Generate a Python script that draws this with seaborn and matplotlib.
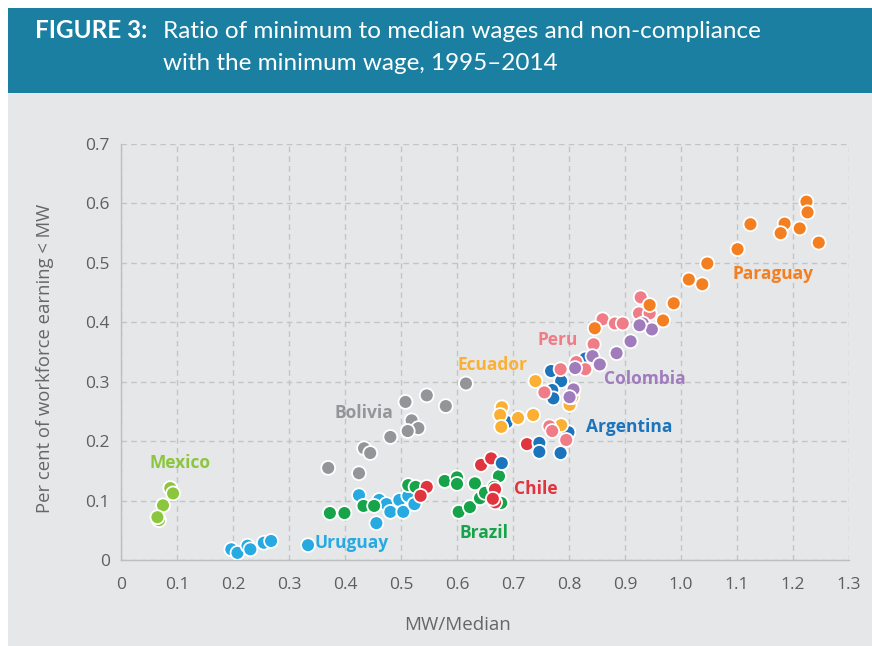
import matplotlib
matplotlib.use("Agg")
import matplotlib.pyplot as plt
import seaborn as sns
import pandas as pd
from matplotlib.patches import Rectangle

# ---------------- data ----------------
countries = ["Mexico", "Uruguay", "Bolivia", "Brazil", "Chile", "Argentina",
             "Ecuador", "Peru", "Colombia", "Paraguay"]

mexico_x = [0.088, 0.093, 0.075, 0.068, 0.065]
mexico_y = [0.121, 0.112, 0.092, 0.067, 0.072]

uruguay_x = [0.197, 0.208, 0.226, 0.231, 0.255, 0.268, 0.334, 0.425, 0.461, 0.474,
             0.481, 0.497, 0.504, 0.513, 0.524, 0.456]
uruguay_y = [0.018, 0.012, 0.024, 0.018, 0.029, 0.032, 0.025, 0.109, 0.101, 0.094,
             0.081, 0.101, 0.081, 0.108, 0.094, 0.062]

bolivia_x = [0.616, 0.546, 0.508, 0.580, 0.519, 0.531, 0.512, 0.481, 0.434, 0.445, 0.370, 0.425]
bolivia_y = [0.297, 0.277, 0.266, 0.259, 0.235, 0.222, 0.217, 0.207, 0.188, 0.180, 0.155, 0.146]

brazil_x = [0.373, 0.399, 0.433, 0.452, 0.513, 0.526, 0.578, 0.600, 0.600, 0.632,
            0.603, 0.623, 0.641, 0.650, 0.675, 0.666, 0.679]
brazil_y = [0.079, 0.079, 0.091, 0.091, 0.126, 0.123, 0.133, 0.139, 0.128, 0.129,
            0.081, 0.089, 0.104, 0.113, 0.141, 0.123, 0.096]

chile_x = [0.546, 0.535, 0.643, 0.661, 0.668, 0.668, 0.664, 0.725]
chile_y = [0.123, 0.108, 0.160, 0.171, 0.119, 0.097, 0.103, 0.195]

argentina_x = [0.680, 0.747, 0.747, 0.785, 0.799, 0.689, 0.768, 0.786, 0.770, 0.772, 0.829]
argentina_y = [0.163, 0.197, 0.182, 0.180, 0.215, 0.232, 0.318, 0.301, 0.286, 0.272, 0.339]

ecuador_x = [0.680, 0.677, 0.679, 0.709, 0.736, 0.740, 0.786, 0.801, 0.806]
ecuador_y = [0.257, 0.244, 0.224, 0.239, 0.244, 0.301, 0.227, 0.261, 0.274]

peru_x = [0.928, 0.925, 0.944, 0.860, 0.882, 0.896, 0.844, 0.813, 0.829, 0.785,
          0.756, 0.765, 0.770, 0.795]
peru_y = [0.442, 0.415, 0.415, 0.405, 0.398, 0.398, 0.363, 0.333, 0.321, 0.321,
          0.282, 0.225, 0.217, 0.202]

colombia_x = [0.932, 0.948, 0.926, 0.910, 0.885, 0.842, 0.855, 0.811, 0.808, 0.801]
colombia_y = [0.398, 0.388, 0.395, 0.368, 0.348, 0.343, 0.329, 0.323, 0.287, 0.274]

paraguay_x = [1.224, 1.226, 1.124, 1.185, 1.178, 1.212, 1.246, 1.101, 1.047, 1.014,
              1.038, 0.987, 0.968, 0.944, 0.846]
paraguay_y = [0.603, 0.585, 0.565, 0.566, 0.550, 0.558, 0.534, 0.523, 0.499, 0.472,
              0.464, 0.432, 0.403, 0.429, 0.390]

x_ticks = [0, 0.1, 0.2, 0.3, 0.4, 0.5, 0.6, 0.7, 0.8, 0.9, 1.0, 1.1, 1.2, 1.3]
x_tick_labels = ["0", "0.1", "0.2", "0.3", "0.4", "0.5", "0.6", "0.7", "0.8", "0.9",
                 "1.0", "1.1", "1.2", "1.3"]
y_ticks = [0, 0.1, 0.2, 0.3, 0.4, 0.5, 0.6, 0.7]
y_tick_labels = ["0", "0.1", "0.2", "0.3", "0.4", "0.5", "0.6", "0.7"]

title_bold = "FIGURE 3:"
title_line1 = "Ratio of minimum to median wages and non-compliance"
title_line2 = "with the minimum wage, 1995\u20132014"
x_label = "MW/Median"
y_label = "Per cent of workforce earning < MW"

# ---------------- styling ----------------
colors = {
    "Mexico": "#8cc63f",
    "Uruguay": "#27a9e1",
    "Bolivia": "#939598",
    "Brazil": "#17a34a",
    "Chile": "#e0343e",
    "Argentina": "#1c75bc",
    "Ecuador": "#fbb034",
    "Peru": "#f07c87",
    "Colombia": "#a07cbd",
    "Paraguay": "#f47f20",
}
label_pos = {
    "Mexico": (0.106, 0.163),
    "Uruguay": (0.411, 0.029),
    "Bolivia": (0.433, 0.247),
    "Brazil": (0.648, 0.045),
    "Chile": (0.740, 0.119),
    "Argentina": (0.907, 0.224),
    "Ecuador": (0.664, 0.328),
    "Peru": (0.779, 0.370),
    "Colombia": (0.935, 0.304),
    "Paraguay": (1.165, 0.481),
}

xs = {"Mexico": mexico_x, "Uruguay": uruguay_x, "Bolivia": bolivia_x, "Brazil": brazil_x,
      "Chile": chile_x, "Argentina": argentina_x, "Ecuador": ecuador_x, "Peru": peru_x,
      "Colombia": colombia_x, "Paraguay": paraguay_x}
ys = {"Mexico": mexico_y, "Uruguay": uruguay_y, "Bolivia": bolivia_y, "Brazil": brazil_y,
      "Chile": chile_y, "Argentina": argentina_y, "Ecuador": ecuador_y, "Peru": peru_y,
      "Colombia": colombia_y, "Paraguay": paraguay_y}

rows = []
for c in countries:
    for x, y in zip(xs[c], ys[c]):
        rows.append({"country": c, "mw_median": x, "share": y})
df = pd.DataFrame(rows)

sns.set_theme(style="white")
plt.rcParams["font.family"] = ["Open Sans", "DejaVu Sans"]

BG = "#e6e7e9"
fig = plt.figure(figsize=(8.72, 6.46), dpi=100)
fig.patch.set_facecolor("white")
W, H = 872, 646

# grey panel and teal header
fig.patches.append(Rectangle((8 / W, 0), 1 - 8 / W, 1 - 93 / H, transform=fig.transFigure,
                             facecolor=BG, edgecolor="none", zorder=-10))
fig.patches.append(Rectangle((8 / W, 1 - 93 / H), 1 - 8 / W, 85 / H, transform=fig.transFigure,
                             facecolor="#1b7fa2", edgecolor="none", zorder=-10))

title_font = ["Lato", "Open Sans", "DejaVu Sans"]
fig.text(35 / W, 1 - 31 / H, title_bold, color="white", fontsize=17.5, fontweight="bold",
         va="center", ha="left", family=title_font)
fig.text(163 / W, 1 - 31 / H, title_line1, color="white", fontsize=17.5,
         va="center", ha="left", family=title_font)
fig.text(163 / W, 1 - 63 / H, title_line2, color="white", fontsize=17.5,
         va="center", ha="left", family=title_font)

ax = fig.add_axes([121 / W, 1 - 560 / H, (849 - 121) / W, (560 - 144) / H])
ax.set_facecolor(BG)

sns.scatterplot(data=df, x="mw_median", y="share", hue="country", palette=colors,
                hue_order=countries, s=100, edgecolor="white", linewidth=1.3,
                legend=False, ax=ax, zorder=3)

for c in countries:
    lx, ly = label_pos[c]
    ax.text(lx, ly, c, color=colors[c], fontsize=12.5, fontweight="bold",
            ha="center", va="center", zorder=4)

ax.set_xlim(0, 1.3)
ax.set_ylim(0, 0.7)
ax.set_xticks(x_ticks)
ax.set_xticklabels(x_tick_labels)
ax.set_yticks(y_ticks)
ax.set_yticklabels(y_tick_labels)
ax.tick_params(axis="both", colors="#5f5f5f", labelsize=12.5, length=0)
ax.tick_params(axis="y", pad=8)
ax.tick_params(axis="x", pad=12)
ax.grid(True, linestyle=(0, (4, 3)), color="#c3c4c6", linewidth=1.0, zorder=0)
ax.set_axisbelow(True)
for s in ["top", "right"]:
    ax.spines[s].set_visible(False)
for s in ["left", "bottom"]:
    ax.spines[s].set_color("#bdbec0")
    ax.spines[s].set_linewidth(1.0)

ax.set_xlabel(x_label, color="#666666", fontsize=13.5)
ax.xaxis.set_label_coords((457 - 121) / (849 - 121), -(616 - 560) / (560 - 144))
ax.set_ylabel(y_label, color="#666666", fontsize=13.3)
ax.yaxis.set_label_coords(-(121 - 54) / (849 - 121), (560 - 358) / (560 - 144))

fig.savefig("out.png", dpi=100, facecolor=fig.get_facecolor())
